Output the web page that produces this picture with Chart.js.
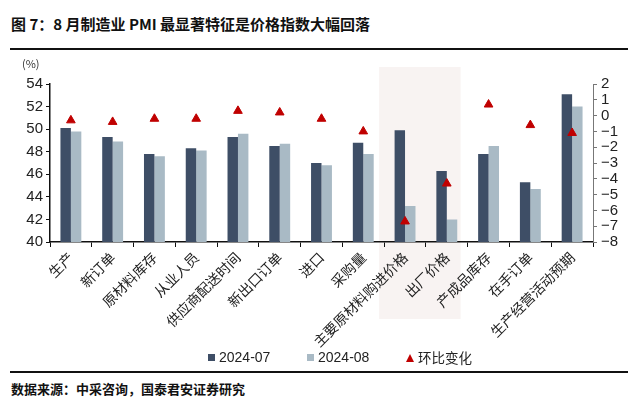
<!DOCTYPE html>
<html>
<head>
<meta charset="utf-8">
<script src="https://cdn.jsdelivr.net/npm/chart.js@4.4.1/dist/chart.umd.min.js"></script>
<style>
  body { margin: 0; background: #fff; width: 640px; height: 407px; position: relative; overflow: hidden; font-family: "Noto Sans CJK SC", sans-serif; }
  #title { position: absolute; left: 11px; top: 13px; font-size: 15px; font-weight: bold; color: #111; white-space: nowrap; }
  .rule { position: absolute; left: 10px; width: 618px; height: 2px; background: #111; }
  #unit { position: absolute; left: 22px; top: 55px; font-size: 11px; color: #333; }
  #src { position: absolute; left: 11px; top: 379px; font-size: 13px; font-weight: bold; color: #111; white-space: nowrap; }
  #wrap { position: absolute; left: 0; top: 0; width: 640px; height: 360px; }
  #legend { position: absolute; top: 348px; left: 0; width: 640px; height: 20px; font-family: "Liberation Sans", Arial, sans-serif; font-size: 14px; color: #222; background: #fff; }
  #legend span { position: absolute; top: 0; line-height: 18px; white-space: nowrap; }
  #legend i { display: inline-block; width: 7px; height: 7px; margin-right: 4px; vertical-align: 1px; }
  #legend i.tri { width: 0; height: 0; border-left: 4px solid transparent; border-right: 4px solid transparent; border-bottom: 8px solid; background: none !important; }
  #legend .cn { font-family: "Noto Sans CJK SC", sans-serif; font-size: 13.5px; }
</style>
</head>
<body>
<div id="title">图 7：8 月制造业 PMI 最显著特征是价格指数大幅回落</div>
<div class="rule" style="top:48px"></div>
<div id="wrap"><canvas id="chart"></canvas></div>
<div id="unit">(%)</div>
<div id="legend"></div>
<div class="rule" style="top:371px"></div>
<div id="src">数据来源：中采咨询，国泰君安证券研究</div>
<script>
const categories = ['生产', '新订单', '原材料库存', '从业人员', '供应商配送时间', '新出口订单', '进口', '采购量', '主要原材料购进价格', '出厂价格', '产成品库存', '在手订单', '生产经营活动预期'];
const jul = [50.1, 49.3, 47.8, 48.3, 49.3, 48.5, 47.0, 48.8, 49.9, 46.3, 47.8, 45.3, 53.1];
const aug = [49.8, 48.9, 47.6, 48.1, 49.6, 48.7, 46.8, 47.8, 43.2, 42.0, 48.5, 44.7, 52.0];
const change = [-0.3, -0.4, -0.2, -0.2, 0.3, 0.2, -0.2, -1.0, -6.7, -4.3, 0.7, -0.6, -1.1];
const leftTicks = [40, 54, 2];
const rightTicks = [-8, 2, 1];
const shaded = [8, 9];
const colors = ['#3e4e66', '#a9bac5', '#c00000'];

// light band behind the two price indices, under the axis labels too
const bandPlugin = {
  id: 'band',
  beforeDraw(chart) {
    const x = chart.scales.x, ctx = chart.ctx;
    const w = x.getPixelForValue(1) - x.getPixelForValue(0);
    const l = x.getPixelForValue(shaded[0]) - 0.62 * w;
    const r = x.getPixelForValue(shaded[1]) + 0.33 * w;
    ctx.save();
    ctx.fillStyle = '#f8f3f2';
    ctx.fillRect(l, 67, r - l, 252);
    ctx.restore();
  }
};

const tickFont = { family: 'Liberation Sans, Arial, sans-serif', size: 15 };

const chart = new Chart(document.getElementById('chart'), {
  type: 'bar',
  data: {
    labels: categories,
    datasets: [
      { label: '2024-07', data: jul, backgroundColor: colors[0], yAxisID: 'y', categoryPercentage: 0.5, barPercentage: 1, order: 2 },
      { label: '2024-08', data: aug, backgroundColor: colors[1], yAxisID: 'y', categoryPercentage: 0.5, barPercentage: 1, order: 2 },
      { type: 'line', label: '环比变化', data: change, yAxisID: 'y1', showLine: false, pointStyle: 'triangle', pointRadius: 5, pointBackgroundColor: colors[2], pointBorderColor: colors[2], backgroundColor: colors[2], borderColor: colors[2], order: 1 }
    ]
  },
  options: {
    responsive: true,
    maintainAspectRatio: false,
    animation: false,
    layout: { padding: { top: 84, left: 0, right: 0, bottom: 0 } },
    plugins: { tooltip: { enabled: false }, legend: { display: false } },
    scales: {
      x: {
        grid: { display: true, drawOnChartArea: false, tickLength: 5, color: '#111', offset: true },
        border: { color: '#111', width: 1.5 },
        ticks: { autoSkip: false, minRotation: 45, maxRotation: 45, color: '#222', font: { family: 'Noto Sans CJK SC, sans-serif', size: 14 }, padding: 2 },
        afterFit(s) { s.height = 118; }
      },
      y: {
        position: 'left',
        min: leftTicks[0], max: leftTicks[1],
        grid: { drawOnChartArea: false, tickLength: 4, color: '#111' },
        border: { color: '#111', width: 1.5 },
        ticks: { autoSkip: false, stepSize: leftTicks[2], color: '#222', font: tickFont, padding: 3 },
        afterFit(s) { s.width = 50; }
      },
      y1: {
        position: 'right',
        min: rightTicks[0], max: rightTicks[1],
        grid: { drawOnChartArea: false, tickLength: 4, color: '#777' },
        border: { color: '#777', width: 1 },
        ticks: { autoSkip: false, stepSize: rightTicks[2], color: '#222', font: tickFont, padding: 4,
          callback: v => String(v).replace('-', '\u2212') },
        afterFit(s) { s.width = 47; }
      }
    }
  },
  plugins: [bandPlugin]
});

// legend
const lg = document.getElementById('legend');
const lx = [208, 307, 406];
chart.data.datasets.forEach((d, i) => {
  const s = document.createElement('span');
  s.style.left = lx[i] + 'px';
  s.innerHTML = (i < 2 ? `<i style="background:${colors[i]}"></i>` : `<i class="tri" style="color:${colors[i]}"></i>`) +
    (i < 2 ? d.label : `<span class="cn" style="position:static">${d.label}</span>`);
  lg.appendChild(s);
});
</script>
</body>
</html>
